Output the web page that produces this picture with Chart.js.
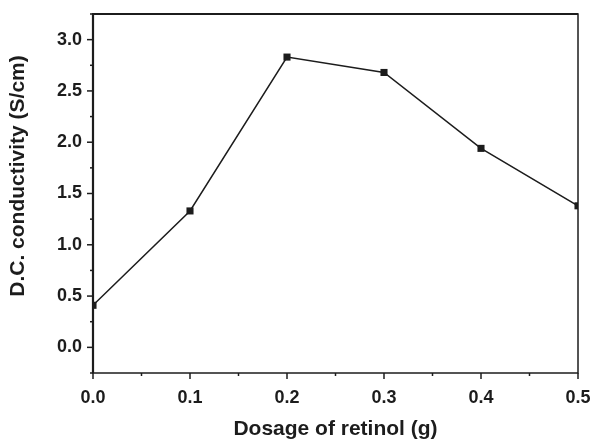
<!DOCTYPE html>
<html>
<head>
<meta charset="utf-8">
<script src="https://cdn.jsdelivr.net/npm/chart.js@4"></script>
<style>
  html, body { margin: 0; padding: 0; background: #fff; }
  #wrap { width: 592px; height: 439px; }
</style>
</head>
<body>
<div id="wrap"><canvas id="chart" width="592" height="439"></canvas></div>
<script>
const dosage = [0.0, 0.1, 0.2, 0.3, 0.4, 0.5];
const conductivity = [0.41, 1.33, 2.83, 2.68, 1.94, 1.38];
const xTickLabels = ['0.0', '0.1', '0.2', '0.3', '0.4', '0.5'];
const yTickLabels = ['0.0', '0.5', '1.0', '1.5', '2.0', '2.5', '3.0'];

const ink = '#1c1c1c';
const font = 'Liberation Sans, Arial, Helvetica, sans-serif';

// frame + major/minor tick marks drawn off the chart's own scales
const frameTicks = {
    id: 'frameTicks',
    afterDraw(chart) {
        const { ctx, chartArea: a, scales } = chart;
        ctx.save();
        ctx.strokeStyle = ink;
        ctx.lineWidth = 1.5;
        ctx.strokeRect(a.left, a.top, a.right - a.left, a.bottom - a.top);
        // top and left edges are a bit heavier in the original
        ctx.lineWidth = 2.2;
        ctx.beginPath();
        ctx.moveTo(a.left, a.bottom);
        ctx.lineTo(a.left, a.top);
        ctx.lineTo(a.right, a.top);
        ctx.stroke();
        ctx.lineWidth = 1.5;
        scales.x.ticks.forEach(t => {
            const major = Math.round(t.value * 100) % 10 === 0;
            const px = scales.x.getPixelForValue(t.value);
            ctx.beginPath();
            ctx.moveTo(px, a.bottom);
            ctx.lineTo(px, a.bottom + (major ? 6 : 3));
            ctx.stroke();
        });
        scales.y.ticks.forEach(t => {
            const major = Math.round(t.value * 100) % 50 === 0;
            const py = scales.y.getPixelForValue(t.value);
            ctx.beginPath();
            ctx.moveTo(a.left, py);
            ctx.lineTo(a.left - (major ? 6 : 3), py);
            ctx.stroke();
        });
        ctx.restore();
    }
};

new Chart(document.getElementById('chart'), {
    type: 'line',
    data: {
        datasets: [{
            data: dosage.map((d, i) => ({ x: d, y: conductivity[i] })),
            borderColor: ink,
            borderWidth: 1.5,
            backgroundColor: ink,
            pointStyle: 'rect',
            pointRadius: 5,
            pointBorderWidth: 0,
            tension: 0,
            clip: 0
        }]
    },
    options: {
        responsive: false,
        animation: false,
        layout: { padding: { left: 0, right: 14, top: 14, bottom: 0 } },
        plugins: { legend: { display: false }, tooltip: { enabled: false } },
        scales: {
            x: {
                type: 'linear',
                min: 0, max: 0.5,
                grid: { display: false },
                border: { display: false },
                afterFit: s => { s.height = 66; s.paddingRight = 0; s.paddingLeft = 0; },
                ticks: {
                    stepSize: 0.05,
                    autoSkip: false,
                    maxRotation: 0,
                    padding: 6,
                    color: ink,
                    font: { family: font, size: 18, weight: 'bold' },
                    callback: v => {
                        const k = Math.round(v * 100);
                        return k % 10 === 0 ? xTickLabels[k / 10] : '';
                    }
                },
                title: {
                    display: true,
                    text: 'Dosage of retinol (g)',
                    color: ink,
                    padding: { top: 0, bottom: -3 },
                    font: { family: font, size: 21, weight: 'bold' }
                }
            },
            y: {
                min: -0.25, max: 3.25,
                grid: { display: false },
                border: { display: false },
                afterFit: s => { s.width = 93; s.paddingTop = 0; s.paddingBottom = 0; },
                ticks: {
                    stepSize: 0.25,
                    autoSkip: false,
                    padding: 3,
                    color: ink,
                    font: { family: font, size: 18, weight: 'bold' },
                    callback: v => {
                        const k = Math.round(v * 100);
                        return (k >= 0 && k % 50 === 0) ? yTickLabels[k / 50] : '';
                    }
                },
                title: {
                    display: true,
                    // leading spaces nudge the rotated title up, as in the original
                    text: '\u00a0\u00a0\u00a0\u00a0\u00a0\u00a0D.C. conductivity (S/cm)',
                    color: ink,
                    padding: { top: 6, bottom: 0 },
                    font: { family: font, size: 21, weight: 'bold' }
                }
            }
        }
    },
    plugins: [frameTicks]
});
</script>
</body>
</html>
